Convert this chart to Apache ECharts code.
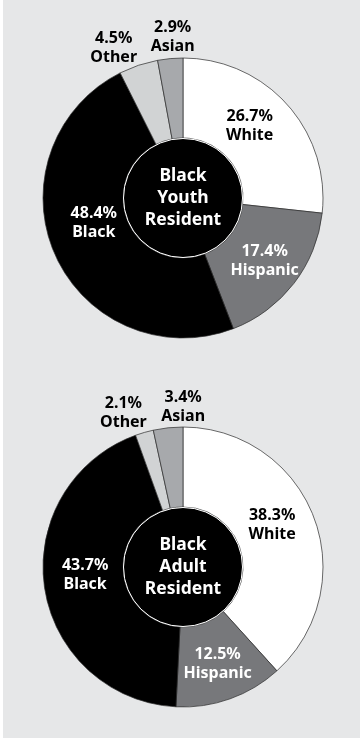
<!DOCTYPE html>
<html><head><meta charset="utf-8">
<script src="https://cdn.jsdelivr.net/npm/echarts@6/dist/echarts.min.js"></script>
<style>
html,body{margin:0;padding:0;background:#fff;width:360px;height:741px;overflow:hidden}
#c{position:absolute;left:3px;top:0;width:357px;height:738px;background:#e6e7e8}
</style>
</head><body><div id="c"></div>
<script>
// ---- data ----
const categories = ['White', 'Hispanic', 'Black', 'Other', 'Asian'];
const youthValues = [26.7, 17.4, 48.4, 4.5, 2.9];
const adultValues = [38.3, 12.5, 43.7, 2.1, 3.4];
const centerTitles = ['Black\nYouth\nResident', 'Black\nAdult\nResident'];

// ---- styles / layout ----
const sliceColors = ['#ffffff', '#77787b', '#000000', '#d1d3d4', '#a7a9ac'];
const labelColors = ['#000000', '#ffffff', '#ffffff', '#000000', '#000000'];
const outsideSlices = [3, 4];
const FONT = '"Noto Sans", "Open Sans", sans-serif';
const pieCenters = [[180, 198], [180, 567]];
// label nudges per chart, per category [dx, dy]
const labelNudges = [
  [[-10, -3], [0, 0], [5, -17], [-14, 0], [9, -4]],
  [[-7, -5], [0, 0], [4, -7], [-11, -2], [22, -3]]
];

function ringSeries(values, k) {
  return {
    type: 'pie',
    center: pieCenters[k],
    radius: [60, 140],
    startAngle: 90,
    clockwise: true,
    avoidLabelOverlap: false,
    silent: true,
    animation: false,
    itemStyle: { borderColor: '#2b2b2b', borderWidth: 0.7 },
    labelLine: { show: false, length: 18, length2: 0 },
    label: {
      formatter: '{c}%\n{b}',
      fontFamily: FONT, fontWeight: 'bold', fontSize: 16, lineHeight: 19
    },
    labelLayout: function (p) {
      const n = labelNudges[k][p.dataIndex];
      return { align: 'center', dx: n[0], dy: n[1] };
    },
    data: categories.map((name, i) => ({
      name: name,
      value: values[i],
      itemStyle: { color: sliceColors[i] },
      label: {
        position: outsideSlices.indexOf(i) >= 0 ? 'outside' : 'inside',
        color: labelColors[i]
      }
    }))
  };
}

function centerSeries(k) {
  return {
    type: 'pie',
    center: pieCenters[k],
    radius: [0, 59.5],
    silent: true,
    animation: false,
    itemStyle: { color: '#000000', borderColor: '#ffffff', borderWidth: 1 },
    label: {
      position: 'center', formatter: '{b}', color: '#ffffff',
      fontFamily: FONT, fontWeight: 'bold', fontSize: 17.5, lineHeight: 22
    },
    labelLine: { show: false },
    data: [{ name: centerTitles[k], value: 1 }]
  };
}

const chart = echarts.init(document.getElementById('c'), null, { renderer: 'canvas' });
chart.setOption({
  backgroundColor: '#e6e7e8',
  animation: false,
  series: [
    ringSeries(youthValues, 0), centerSeries(0),
    ringSeries(adultValues, 1), centerSeries(1)
  ]
});
</script>
</body></html>
